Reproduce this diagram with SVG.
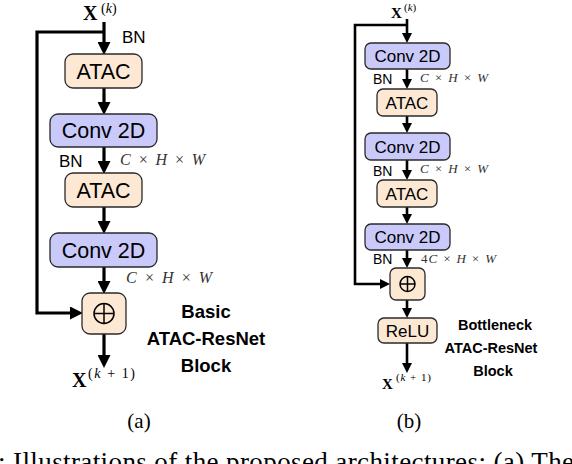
<svg xmlns="http://www.w3.org/2000/svg" width="572" height="464" viewBox="0 0 572 464">
<defs>
<marker id="ha" markerUnits="userSpaceOnUse" markerWidth="13" markerHeight="13" refX="6" refY="6.5" orient="auto"><path d="M0,0 L13,6.5 L0,13 Z" fill="#000"/></marker>
<marker id="hb" markerUnits="userSpaceOnUse" markerWidth="10" markerHeight="10" refX="5" refY="5" orient="auto"><path d="M0,0 L10,5 L0,10 Z" fill="#000"/></marker>
</defs>
<style>
.atac{fill:#fde8d4;stroke:#2a2a2a;stroke-width:1.3}
.conv{fill:#c9c9fa;stroke:#2a2a2a;stroke-width:1.3}
.sans{font-family:"Liberation Sans",Arial,sans-serif;fill:#000}
.bold{font-family:"Liberation Sans",Arial,sans-serif;font-weight:bold;fill:#000}
.serif{font-family:"Liberation Serif","Times New Roman",serif;fill:#000}
.mx{font-family:"Liberation Serif","Times New Roman",serif;font-weight:bold;fill:#000}
.it{font-family:"Liberation Serif","Times New Roman",serif;font-style:italic;fill:#333}
.la{fill:none;stroke:#000;stroke-width:3.2}
.lb{fill:none;stroke:#000;stroke-width:2.6}
.plus{fill:none;stroke:#000;stroke-width:1.5}
</style>

<g id="connectors">
<!-- (a) -->
<path class="la" d="M104,22 V48" marker-end="url(#ha)"/>
<path class="la" d="M104,32 H37 V313 H76" marker-end="url(#ha)"/>
<path class="la" d="M104,88 V108" marker-end="url(#ha)"/>
<path class="la" d="M104,147 V167" marker-end="url(#ha)"/>
<path class="la" d="M104,207 V227" marker-end="url(#ha)"/>
<path class="la" d="M104,267 V287" marker-end="url(#ha)"/>
<path class="la" d="M104,334 V361" marker-end="url(#ha)"/>
<!-- (b) -->
<path class="lb" d="M407,19 V38" marker-end="url(#hb)"/>
<path class="lb" d="M407,25 H355 V284 H385" marker-end="url(#hb)"/>
<path class="lb" d="M407,69 V84" marker-end="url(#hb)"/>
<path class="lb" d="M407,116 V128" marker-end="url(#hb)"/>
<path class="lb" d="M407,160 V175" marker-end="url(#hb)"/>
<path class="lb" d="M407,207 V219" marker-end="url(#hb)"/>
<path class="lb" d="M407,250 V263" marker-end="url(#hb)"/>
<path class="lb" d="M407,300 V313" marker-end="url(#hb)"/>
<path class="lb" d="M407,343 V368" marker-end="url(#hb)"/>
</g>

<!-- (a) nodes -->
<g id="a-atac1"><rect class="atac" x="65" y="54" width="77" height="34" rx="8"/><text class="sans" x="103.5" y="79" font-size="21.5" text-anchor="middle">ATAC</text></g>
<g id="a-conv1"><rect class="conv" x="50" y="114" width="107" height="33" rx="8"/><text class="sans" x="103.5" y="138" font-size="21.5" text-anchor="middle">Conv 2D</text></g>
<g id="a-atac2"><rect class="atac" x="65" y="173" width="77" height="34" rx="8"/><text class="sans" x="103.5" y="198" font-size="21.5" text-anchor="middle">ATAC</text></g>
<g id="a-conv2"><rect class="conv" x="50" y="233" width="107" height="34" rx="8"/><text class="sans" x="103.5" y="257.5" font-size="21.5" text-anchor="middle">Conv 2D</text></g>
<g id="a-sum"><rect class="atac" x="82" y="293" width="44" height="41" rx="8"/><circle class="plus" cx="104" cy="313.5" r="10"/><path class="plus" d="M94,313.5 H114 M104,303.5 V323.5"/></g>

<g id="a-labels">
<text class="mx" x="83" y="20" font-size="20">X</text>
<text class="serif" x="101" y="13" font-size="14">(<tspan font-style="italic">k</tspan>)</text>
<text class="sans" x="122" y="43" font-size="17">BN</text>
<text class="sans" x="59" y="167" font-size="17">BN</text>
<text class="it" x="120" y="165" font-size="16" textLength="85" lengthAdjust="spacing">C × H × W</text>
<text class="it" x="126" y="283" font-size="16" textLength="86" lengthAdjust="spacing">C × H × W</text>
<text class="mx" x="72" y="387" font-size="20">X</text>
<text class="serif" x="88" y="378" font-size="14" textLength="47" lengthAdjust="spacing">(<tspan font-style="italic">k</tspan> + 1)</text>
<text class="bold" x="206" y="318" font-size="18.5" text-anchor="middle">Basic</text>
<text class="bold" x="206" y="345" font-size="18.5" text-anchor="middle">ATAC-ResNet</text>
<text class="bold" x="206" y="372" font-size="18.5" text-anchor="middle">Block</text>
<text class="serif" x="139" y="428" font-size="21" text-anchor="middle">(a)</text>
</g>

<!-- (b) nodes -->
<g id="b-conv1"><rect class="conv" x="365" y="43" width="85" height="26" rx="6"/><text class="sans" x="407.5" y="62" font-size="17" text-anchor="middle">Conv 2D</text></g>
<g id="b-atac1"><rect class="atac" x="377" y="89" width="60" height="27" rx="6"/><text class="sans" x="407" y="108.5" font-size="17" text-anchor="middle">ATAC</text></g>
<g id="b-conv2"><rect class="conv" x="365" y="133" width="85" height="27" rx="6"/><text class="sans" x="407.5" y="152.5" font-size="17" text-anchor="middle">Conv 2D</text></g>
<g id="b-atac2"><rect class="atac" x="377" y="180" width="60" height="27" rx="6"/><text class="sans" x="407" y="199.5" font-size="17" text-anchor="middle">ATAC</text></g>
<g id="b-conv3"><rect class="conv" x="365" y="224" width="85" height="26" rx="6"/><text class="sans" x="407.5" y="243" font-size="17" text-anchor="middle">Conv 2D</text></g>
<g id="b-sum"><rect class="atac" x="390" y="268" width="35" height="32" rx="6"/><circle class="plus" cx="407.5" cy="284" r="7.5"/><path class="plus" d="M400,284 H415 M407.5,276.5 V291.5"/></g>
<g id="b-relu"><rect class="atac" x="378" y="318" width="59" height="25" rx="6"/><text class="sans" x="407.5" y="336.5" font-size="17" text-anchor="middle">ReLU</text></g>

<g id="b-labels">
<text class="mx" x="391" y="18" font-size="15">X</text>
<text class="serif" x="404" y="11" font-size="11">(<tspan font-style="italic">k</tspan>)</text>
<text class="sans" x="373" y="84" font-size="14">BN</text>
<text class="it" x="420" y="82" font-size="13" textLength="68" lengthAdjust="spacing">C × H × W</text>
<text class="sans" x="373" y="176" font-size="14">BN</text>
<text class="it" x="420" y="173" font-size="13" textLength="68" lengthAdjust="spacing">C × H × W</text>
<text class="sans" x="373" y="264" font-size="14">BN</text>
<text class="it" x="421" y="263" font-size="13" textLength="75" lengthAdjust="spacing"><tspan font-style="normal">4</tspan>C × H × W</text>
<text class="mx" x="382" y="389" font-size="15">X</text>
<text class="serif" x="396" y="381" font-size="11" textLength="35" lengthAdjust="spacing">(<tspan font-style="italic">k</tspan> + 1)</text>
<text class="bold" x="495" y="330" font-size="14.5" text-anchor="middle">Bottleneck</text>
<text class="bold" x="491" y="353" font-size="14.5" text-anchor="middle">ATAC-ResNet</text>
<text class="bold" x="493" y="376" font-size="14.5" text-anchor="middle">Block</text>
<text class="serif" x="409" y="428" font-size="21" text-anchor="middle">(b)</text>
</g>

<text class="serif" x="-2" y="471" font-size="27" textLength="576" lengthAdjust="spacing">: Illustrations of the proposed architectures: (a) The</text>
</svg>
